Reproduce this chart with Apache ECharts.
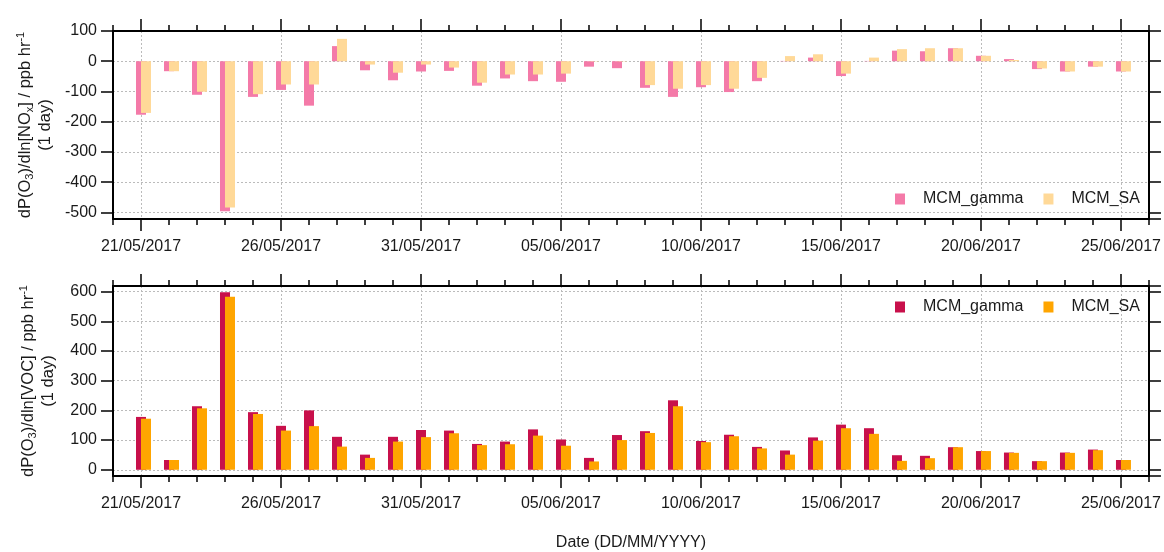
<!DOCTYPE html>
<html>
<head>
<meta charset="utf-8">
<script src="https://cdn.jsdelivr.net/npm/echarts@6/dist/echarts.min.js"></script>
<style>
html,body{margin:0;padding:0;background:#fff;}
#chart{width:1164px;height:552px;}
</style>
</head>
<body>
<div id="chart"></div>
<script>
// Axis categories (one per day, 20/05/2017 .. 26/06/2017)
const dates = [
  '20/05/2017','21/05/2017','22/05/2017','23/05/2017','24/05/2017','25/05/2017','26/05/2017','27/05/2017',
  '28/05/2017','29/05/2017','30/05/2017','31/05/2017','01/06/2017','02/06/2017','03/06/2017','04/06/2017',
  '05/06/2017','06/06/2017','07/06/2017','08/06/2017','09/06/2017','10/06/2017','11/06/2017','12/06/2017',
  '13/06/2017','14/06/2017','15/06/2017','16/06/2017','17/06/2017','18/06/2017','19/06/2017','20/06/2017',
  '21/06/2017','22/06/2017','23/06/2017','24/06/2017','25/06/2017','26/06/2017'
];
// Values for 21/05/2017 .. 25/06/2017
const noxGamma = [-177,-33,-111,-496,-118,-95,-147,50,-30,-63,-34,-32,-81,-57,-66,-68,-18,-23,-88,-118,-86,-102,-66,1,12,-49,1,35,33,43,18,7,-26,-34,-18,-34];
const noxSA    = [-171,-33,-101,-484,-109,-77,-77,74,-11,-38,-11,-21,-71,-44,-44,-41,-1,-1,-79,-91,-79,-91,-55,17,23,-41,12,40,43,43,18,4,-24,-34,-18,-34];
const vocGamma = [178,33,214,598,194,148,200,111,51,111,134,132,87,95,136,102,40,117,130,234,97,118,77,65,109,152,140,49,47,76,63,58,29,58,68,33];
const vocSA    = [172,33,207,583,188,132,147,78,40,95,110,123,83,86,115,81,28,100,124,214,93,113,72,51,98,140,121,30,39,76,63,57,29,57,66,33];
const seriesNames = ['MCM_gamma','MCM_SA'];

const FONT = '"Liberation Sans", Arial, sans-serif';
const TXT = '#1a1a1a';
const pad = arr => [null].concat(arr, [null]);
const majorFn = (i) => (i - 1) % 5 === 0;

function xAxes(gridIndex, withName) {
  const base = {type:'category', data:dates, boundaryGap:false, gridIndex:gridIndex};
  return [
    Object.assign({}, base, {
      position:'bottom',
      axisLine:{show:true, onZero:false, lineStyle:{color:'#000', width:2}},
      axisTick:{show:true, interval:majorFn, length:12, inside:false, lineStyle:{color:'#000', width:1.5}},
      axisLabel:{interval:majorFn, margin:20, fontSize:16, color:TXT, fontFamily:FONT},
      splitLine:{show:true, interval:majorFn, lineStyle:{color:'#bbbbbb', type:[2,2], width:1}},
      name: withName ? 'Date (DD/MM/YYYY)' : '',
      nameLocation:'middle', nameGap:59,
      nameTextStyle:{fontSize:16, color:TXT, fontFamily:FONT}
    }),
    Object.assign({}, base, {
      position:'bottom',
      axisLine:{show:false, onZero:false},
      axisTick:{show:true, interval:0, length:6, lineStyle:{color:'#000', width:1.5}},
      axisLabel:{show:false}, splitLine:{show:false}
    }),
    Object.assign({}, base, {
      position:'top',
      axisLine:{show:true, onZero:false, lineStyle:{color:'#000', width:2}},
      axisTick:{show:true, interval:majorFn, length:12, lineStyle:{color:'#000', width:1.5}},
      axisLabel:{show:false}, splitLine:{show:false}
    }),
    Object.assign({}, base, {
      position:'top',
      axisLine:{show:false, onZero:false},
      axisTick:{show:true, interval:0, length:6, lineStyle:{color:'#000', width:1.5}},
      axisLabel:{show:false}, splitLine:{show:false}
    })
  ];
}

function yAxes(gridIndex, min, max, name) {
  return [
    {
      type:'value', gridIndex:gridIndex, position:'left', min:min, max:max, splitNumber:6,
      axisLine:{show:true, onZero:false, lineStyle:{color:'#000', width:2}},
      axisTick:{show:true, length:12, lineStyle:{color:'#000', width:1.5}},
      axisLabel:{margin:16, fontSize:16, color:TXT, fontFamily:FONT, showMinLabel:false, showMaxLabel: max % 100 === 0},
      splitLine:{show:true, lineStyle:{color:'#bbbbbb', type:[2,2], width:1}},
      name:name, nameLocation:'middle', nameRotate:90, nameGap:55,
      nameTextStyle:{
        color:TXT, fontFamily:FONT, align:'center',
        rich:{
          a:{fontSize:16.5, lineHeight:20, color:TXT, fontFamily:FONT},
          b:{fontSize:11, lineHeight:10, verticalAlign:'bottom', color:TXT, fontFamily:FONT},
          c:{fontSize:11, lineHeight:10, verticalAlign:'top', color:TXT, fontFamily:FONT}
        }
      }
    },
    {
      type:'value', gridIndex:gridIndex, position:'right', min:min, max:max, splitNumber:6,
      axisLine:{show:true, onZero:false, lineStyle:{color:'#000', width:2}},
      axisTick:{show:true, length:12, lineStyle:{color:'#000', width:1.5}},
      axisLabel:{show:false}, splitLine:{show:false}
    }
  ];
}

function bars(xIdx, yIdx, g, s, colG, colS) {
  const common = {type:'bar', xAxisIndex:xIdx, yAxisIndex:yIdx, barWidth:10, barGap:'-50%'};
  return [
    Object.assign({}, common, {name:'spacer', data:dates.map(() => null), itemStyle:{opacity:0}, silent:true}),
    Object.assign({}, common, {name:seriesNames[0], data:pad(g), itemStyle:{color:colG}}),
    Object.assign({}, common, {name:seriesNames[1], data:pad(s), itemStyle:{color:colS}})
  ];
}

const PINK = '#f47aa8', YELLOW = '#ffd998', CRIMSON = '#c8104b', ORANGE = '#ffa500';

function legend(top, c1, c2) {
  return {
    left:890, top:top, orient:'horizontal', selectedMode:false,
    icon:'rect', itemWidth:10, itemHeight:11, itemGap:20,
    textStyle:{fontSize:16, color:TXT, fontFamily:FONT, padding:[0,0,0,13]},
    data:[{name:seriesNames[0], itemStyle:{color:c1}}, {name:seriesNames[1], itemStyle:{color:c2}}]
  };
}

const option = {
  animation:false,
  backgroundColor:'#fff',
  grid:[
    {left:113, right:13, top:31, height:188},
    {left:113, right:13, top:286, height:193}
  ],
  xAxis: xAxes(0, false).concat(xAxes(1, true)),
  yAxis: yAxes(0, -522, 100, '{a|dP(O}{b|3}{a|)/dln[NO}{b|x}{a|] / ppb hr}{c|-1}\n{a|(1 day)}')
    .concat(yAxes(1, -21, 619, '{a|dP(O}{b|3}{a|)/dln[VOC] / ppb hr}{c|-1}\n{a|(1 day)}')),
  legend:[legend(186, PINK, YELLOW), legend(294, CRIMSON, ORANGE)],
  series: bars(0, 0, noxGamma, noxSA, PINK, YELLOW).concat(bars(4, 2, vocGamma, vocSA, CRIMSON, ORANGE))
};

const chart = echarts.init(document.getElementById('chart'), null, {renderer:'canvas'});
chart.setOption(option);
</script>
</body>
</html>
